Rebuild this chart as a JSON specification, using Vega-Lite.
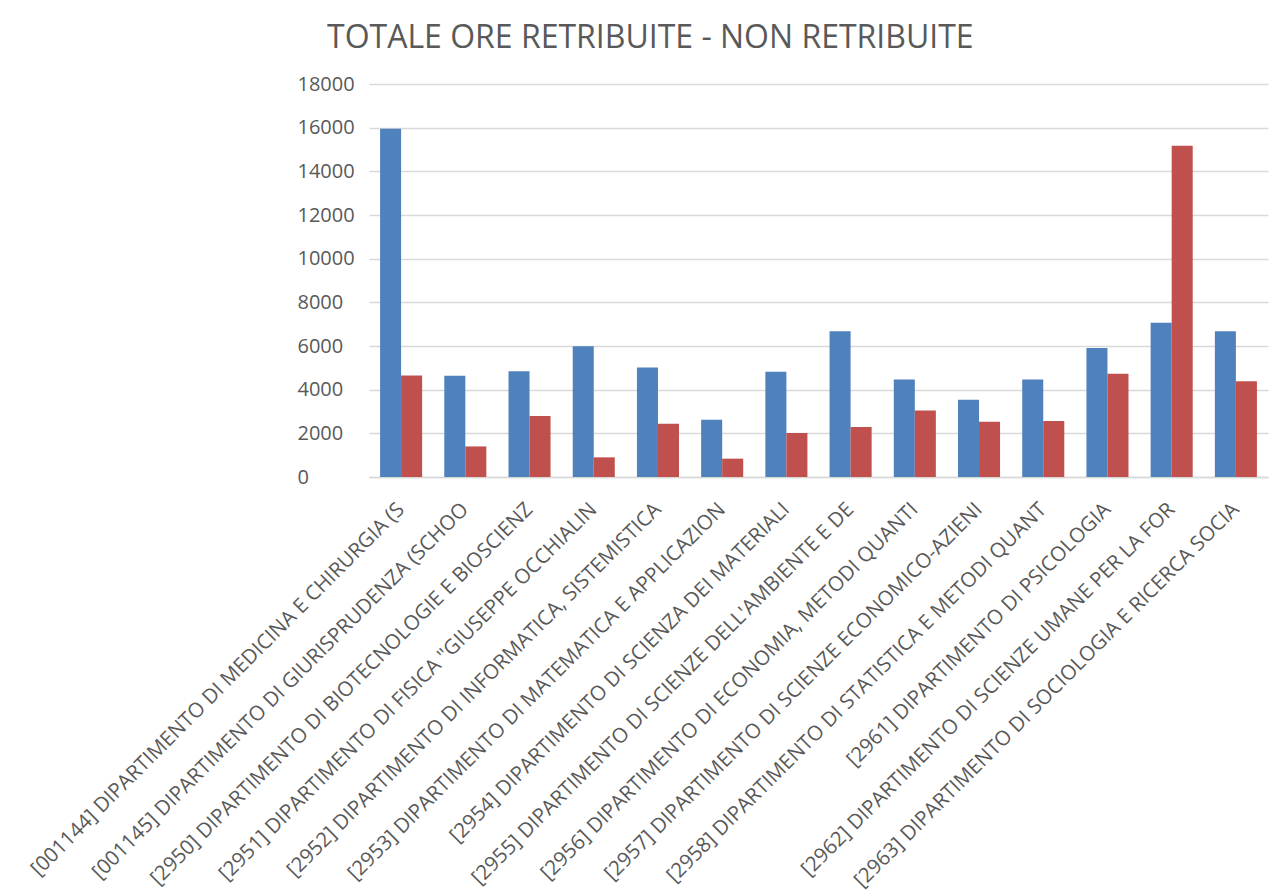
{
  "$schema": "https://vega.github.io/schema/vega-lite/v6.json",
  "autosize": "none",
  "width": 899,
  "height": 393,
  "padding": {"left": 369, "top": 84, "right": 14, "bottom": 413},
  "background": "white",
  "title": {
    "text": "TOTALE ORE RETRIBUITE - NON RETRIBUITE",
    "anchor": "start",
    "frame": "group",
    "dx": -42,
    "offset": 19,
    "font": "Open Sans",
    "fontSize": 32,
    "fontWeight": "normal",
    "color": "#595959"
  },
  "data": {
    "values": [
      {"dip": "[001144] DIPARTIMENTO DI MEDICINA E CHIRURGIA (S", "serie": "Retribuite", "ore": 15950},
      {"dip": "[001144] DIPARTIMENTO DI MEDICINA E CHIRURGIA (S", "serie": "Non retribuite", "ore": 4650},
      {"dip": "[001145] DIPARTIMENTO DI GIURISPRUDENZA (SCHOO", "serie": "Retribuite", "ore": 4640},
      {"dip": "[001145] DIPARTIMENTO DI GIURISPRUDENZA (SCHOO", "serie": "Non retribuite", "ore": 1400},
      {"dip": "[2950] DIPARTIMENTO DI BIOTECNOLOGIE E BIOSCIENZ", "serie": "Retribuite", "ore": 4840},
      {"dip": "[2950] DIPARTIMENTO DI BIOTECNOLOGIE E BIOSCIENZ", "serie": "Non retribuite", "ore": 2790},
      {"dip": "[2951] DIPARTIMENTO DI FISICA \"GIUSEPPE OCCHIALIN", "serie": "Retribuite", "ore": 5985},
      {"dip": "[2951] DIPARTIMENTO DI FISICA \"GIUSEPPE OCCHIALIN", "serie": "Non retribuite", "ore": 900},
      {"dip": "[2952] DIPARTIMENTO DI INFORMATICA, SISTEMISTICA", "serie": "Retribuite", "ore": 5020},
      {"dip": "[2952] DIPARTIMENTO DI INFORMATICA, SISTEMISTICA", "serie": "Non retribuite", "ore": 2440},
      {"dip": "[2953] DIPARTIMENTO DI MATEMATICA E APPLICAZION", "serie": "Retribuite", "ore": 2625},
      {"dip": "[2953] DIPARTIMENTO DI MATEMATICA E APPLICAZION", "serie": "Non retribuite", "ore": 840},
      {"dip": "[2954] DIPARTIMENTO DI SCIENZA DEI MATERIALI", "serie": "Retribuite", "ore": 4820},
      {"dip": "[2954] DIPARTIMENTO DI SCIENZA DEI MATERIALI", "serie": "Non retribuite", "ore": 2015},
      {"dip": "[2955] DIPARTIMENTO DI SCIENZE DELL'AMBIENTE E DE", "serie": "Retribuite", "ore": 6670},
      {"dip": "[2955] DIPARTIMENTO DI SCIENZE DELL'AMBIENTE E DE", "serie": "Non retribuite", "ore": 2290},
      {"dip": "[2956] DIPARTIMENTO DI ECONOMIA, METODI QUANTI", "serie": "Retribuite", "ore": 4460},
      {"dip": "[2956] DIPARTIMENTO DI ECONOMIA, METODI QUANTI", "serie": "Non retribuite", "ore": 3050},
      {"dip": "[2957] DIPARTIMENTO DI SCIENZE ECONOMICO-AZIENI", "serie": "Retribuite", "ore": 3540},
      {"dip": "[2957] DIPARTIMENTO DI SCIENZE ECONOMICO-AZIENI", "serie": "Non retribuite", "ore": 2530},
      {"dip": "[2958] DIPARTIMENTO DI STATISTICA E METODI QUANT", "serie": "Retribuite", "ore": 4460},
      {"dip": "[2958] DIPARTIMENTO DI STATISTICA E METODI QUANT", "serie": "Non retribuite", "ore": 2565},
      {"dip": "[2961] DIPARTIMENTO DI PSICOLOGIA", "serie": "Retribuite", "ore": 5910},
      {"dip": "[2961] DIPARTIMENTO DI PSICOLOGIA", "serie": "Non retribuite", "ore": 4730},
      {"dip": "[2962] DIPARTIMENTO DI SCIENZE UMANE PER LA FOR", "serie": "Retribuite", "ore": 7070},
      {"dip": "[2962] DIPARTIMENTO DI SCIENZE UMANE PER LA FOR", "serie": "Non retribuite", "ore": 15175},
      {"dip": "[2963] DIPARTIMENTO DI SOCIOLOGIA E RICERCA SOCIA", "serie": "Retribuite", "ore": 6670},
      {"dip": "[2963] DIPARTIMENTO DI SOCIOLOGIA E RICERCA SOCIA", "serie": "Non retribuite", "ore": 4380}
    ]
  },
  "mark": {"type": "bar"},
  "encoding": {
    "x": {
      "field": "dip",
      "type": "nominal",
      "sort": null,
      "scale": {"paddingInner": 0.345, "paddingOuter": 0.1725},
      "axis": {
        "title": null,
        "labelAngle": -45,
        "labelAlign": "right",
        "labelBaseline": "middle",
        "labelPadding": 29,
        "labelLimit": 0,
        "labelFont": "Open Sans",
        "labelFontSize": 20.5,
        "labelColor": "#595959",
        "ticks": false,
        "domain": true,
        "domainColor": "#D9D9D9",
        "domainWidth": 1.5,
        "grid": false
      }
    },
    "xOffset": {"field": "serie", "type": "nominal", "sort": ["Retribuite", "Non retribuite"], "scale": {"paddingInner": 0, "paddingOuter": 0}},
    "y": {
      "field": "ore",
      "type": "quantitative",
      "scale": {"domain": [0, 18000], "nice": false},
      "axis": {
        "title": null,
        "values": [0, 2000, 4000, 6000, 8000, 10000, 12000, 14000, 16000, 18000],
        "format": "d",
        "domain": false,
        "ticks": false,
        "labelAlign": "left",
        "labelPadding": 72,
        "labelFont": "Open Sans",
        "labelFontSize": 20,
        "labelColor": "#595959",
        "gridColor": "#D9D9D9",
        "gridWidth": 1.5
      }
    },
    "color": {
      "field": "serie",
      "type": "nominal",
      "sort": ["Retribuite", "Non retribuite"],
      "scale": {"range": ["#4F81BD", "#C0504D"]},
      "legend": null
    }
  },
  "config": {"view": {"stroke": null}}
}
